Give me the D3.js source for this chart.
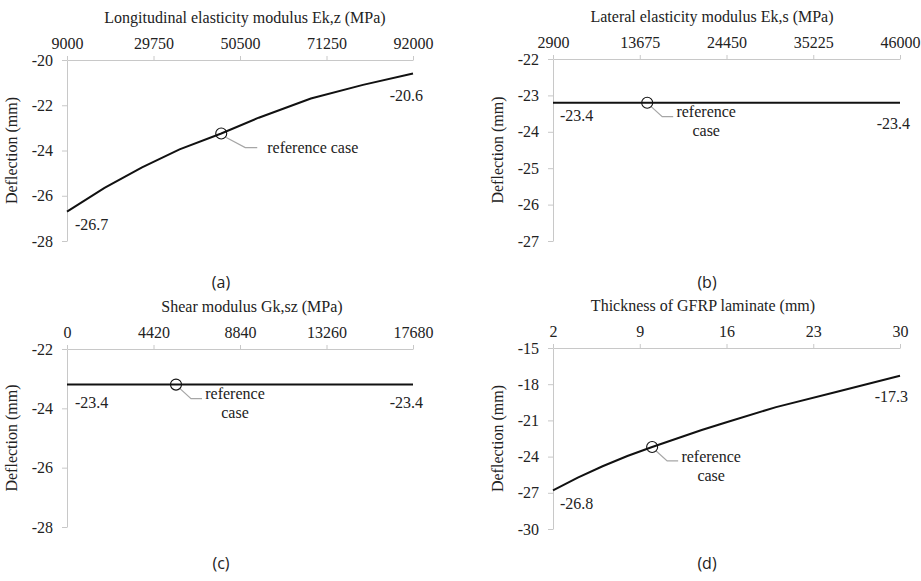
<!DOCTYPE html>
<html>
<head>
<meta charset="utf-8">
<script src="https://cdn.jsdelivr.net/npm/d3@7"></script>
<style>
  body { margin: 0; background: #fff; }
  svg { display: block; }
  .serif { font-family: "Liberation Serif", "DejaVu Serif", serif; fill: #222; }
  .caption { font-family: "Open Sans", "Noto Sans", sans-serif; font-size: 16px; fill: #222; }
</style>
</head>
<body>
<svg id="chart" width="921" height="581"></svg>
<script>
// values
const titlesA = 'Longitudinal elasticity modulus Ek,z (MPa)';
const ticksA = [9000, 29750, 50500, 71250, 92000];
const yTicksA = [-20, -22, -24, -26, -28];
const seriesA = [
    [9000, -26.7], [18000, -25.65], [27000, -24.75], [36000, -23.95],
    [46000, -23.25], [55000, -22.55], [67500, -21.7], [80000, -21.1], [92000, -20.6]
];
const refA = [46000, -23.25];

const titlesB = 'Lateral elasticity modulus Ek,s (MPa)';
const ticksB = [2900, 13675, 24450, 35225, 46000];
const yTicksB = [-22, -23, -24, -25, -26, -27];
const seriesB = [[2900, -23.2], [14600, -23.2], [46000, -23.2]];
const refB = [14600, -23.2];

const titlesC = 'Shear modulus Gk,sz (MPa)';
const ticksC = [0, 4420, 8840, 13260, 17680];
const yTicksC = [-22, -24, -26, -28];
const seriesC = [[0, -23.2], [5570, -23.2], [17680, -23.2]];
const refC = [5570, -23.2];

const titlesD = 'Thickness of GFRP laminate (mm)';
const ticksD = [2, 9, 16, 23, 30];
const yTicksD = [-15, -18, -21, -24, -27, -30];
const seriesD = [
    [2, -26.8], [4, -25.75], [6, -24.8], [8, -23.95], [10, -23.2], [12, -22.5],
    [14, -21.8], [16, -21.15], [20, -19.9], [25, -18.6], [30, -17.3]
];
const refD = [10, -23.2];

const endLabels = [['-26.7', '-20.6'], ['-23.4', '-23.4'], ['-23.4', '-23.4'], ['-26.8', '-17.3']];
const captions = ['(a)', '(b)', '(c)', '(d)'];

// layout of each panel
const panels = [
    { title: titlesA, ticks: ticksA, yTicks: yTicksA, data: seriesA, ref: refA,
      x0: 67, x1: 413, y0: 60, y1: 241, titleX: 245, capY: 282,
      left: [8, 13], right: [10, 22], refText: 'oneline' },
    { title: titlesB, ticks: ticksB, yTicks: yTicksB, data: seriesB, ref: refB,
      x0: 553, x1: 900, y0: 59, y1: 241, titleX: 712, capY: 282,
      left: [7, 13], right: [10, 21], refText: 'twoline' },
    { title: titlesC, ticks: ticksC, yTicks: yTicksC, data: seriesC, ref: refC,
      x0: 67, x1: 413, y0: 349, y1: 527, titleX: 252, capY: 563,
      left: [8, 18], right: [10, 18], refText: 'twoline' },
    { title: titlesD, ticks: ticksD, yTicks: yTicksD, data: seriesD, ref: refD,
      x0: 553, x1: 900, y0: 348, y1: 529, titleX: 703, capY: 563,
      left: [7, 13], right: [8, 21], refText: 'twoline' }
];

const svg = d3.select('#chart');
const axisGray = '#c8c8c8';
const serifFont = '"Liberation Serif", "DejaVu Serif", serif';

panels.forEach((p, i) => {
    const g = svg.append('g');
    const x = d3.scaleLinear()
        .domain(d3.extent(p.ticks))
        .range([p.x0, p.x1]);
    const y = d3.scaleLinear()
        .domain(d3.extent(p.yTicks).reverse())
        .range([p.y0, p.y1]);

    // top axis
    const xAxis = g.append('g')
        .attr('transform', `translate(0,${p.y0})`)
        .attr('font-family', serifFont)
        .attr('font-size', 16)
        .call(d3.axisTop(x).tickValues(p.ticks).tickSize(4).tickSizeOuter(0).tickFormat(d3.format('d')));
    xAxis.attr('font-family', serifFont).attr('font-size', 16);
    xAxis.select('.domain').attr('stroke', axisGray);
    xAxis.selectAll('.tick line').attr('stroke', axisGray);
    xAxis.selectAll('.tick text')
        .attr('fill', '#222')
        .attr('dy', 0)
        .attr('y', -11);

    // left axis
    const yAxis = g.append('g')
        .attr('transform', `translate(${p.x0},0)`)
        .call(d3.axisLeft(y).tickValues(p.yTicks).tickSize(5).tickSizeOuter(0));
    yAxis.attr('font-family', serifFont).attr('font-size', 16);
    yAxis.select('.domain').attr('stroke', axisGray);
    yAxis.selectAll('.tick line').attr('stroke', axisGray);
    yAxis.selectAll('.tick text')
        .attr('fill', '#222')
        .attr('x', -14)
        .text(d => d3.format('d')(d).replace('−', '-'));

    // titles
    g.append('text')
        .attr('class', 'serif')
        .attr('x', p.titleX)
        .attr('y', p.y0 - 37)
        .attr('text-anchor', 'middle')
        .attr('font-size', 16)
        .text(p.title);

    g.append('text')
        .attr('class', 'serif')
        .attr('transform', `translate(${p.x0 - 50},${(p.y0 + p.y1) / 2}) rotate(-90)`)
        .attr('text-anchor', 'middle')
        .attr('font-size', 16)
        .text('Deflection (mm)');

    // series
    const line = d3.line()
        .x(d => x(d[0]))
        .y(d => y(d[1]));
    g.append('path')
        .datum(p.data)
        .attr('fill', 'none')
        .attr('stroke', '#111')
        .attr('stroke-width', 2)
        .attr('d', line);

    // end value labels
    const first = p.data[0];
    const last = p.data[p.data.length - 1];
    g.append('text')
        .attr('class', 'serif')
        .attr('font-size', 16)
        .attr('x', x(first[0]) + p.left[0])
        .attr('y', y(first[1]) + p.left[1])
        .attr('dy', '0.35em')
        .text(endLabels[i][0]);
    g.append('text')
        .attr('class', 'serif')
        .attr('font-size', 16)
        .attr('text-anchor', 'end')
        .attr('x', x(last[0]) + p.right[0])
        .attr('y', y(last[1]) + p.right[1])
        .attr('dy', '0.35em')
        .text(endLabels[i][1]);

    // reference case marker
    const cx = x(p.ref[0]);
    const cy = y(p.ref[1]);
    const oneLine = p.refText === 'oneline';
    const lead = oneLine ? [[5, 4], [24, 14], [36, 14]] : [[4, 4], [15, 14], [26, 14]];
    g.append('path')
        .attr('fill', 'none')
        .attr('stroke', '#a6a6a6')
        .attr('stroke-width', 1.2)
        .attr('d', d3.line()(lead.map(([dx, dy]) => [cx + dx, cy + dy])));
    g.append('circle')
        .attr('cx', cx)
        .attr('cy', cy)
        .attr('r', 5.5)
        .attr('fill', 'none')
        .attr('stroke', '#111')
        .attr('stroke-width', 1.1);

    if (oneLine) {
        g.append('text')
            .attr('class', 'serif')
            .attr('font-size', 16)
            .attr('x', cx + 46)
            .attr('y', cy + 14)
            .attr('dy', '0.35em')
            .text('reference case');
    } else {
        const t = g.append('text')
            .attr('class', 'serif')
            .attr('font-size', 16)
            .attr('text-anchor', 'middle');
        t.append('tspan').attr('x', cx + 59).attr('y', cy + 9).attr('dy', '0.35em').text('reference');
        t.append('tspan').attr('x', cx + 59).attr('y', cy + 28).attr('dy', '0.35em').text('case');
    }

    // caption
    svg.append('text')
        .attr('class', 'caption')
        .attr('x', i % 2 === 0 ? 221 : 707)
        .attr('y', p.capY)
        .attr('dy', '0.35em')
        .attr('text-anchor', 'middle')
        .text(captions[i]);
});
</script>
</body>
</html>
